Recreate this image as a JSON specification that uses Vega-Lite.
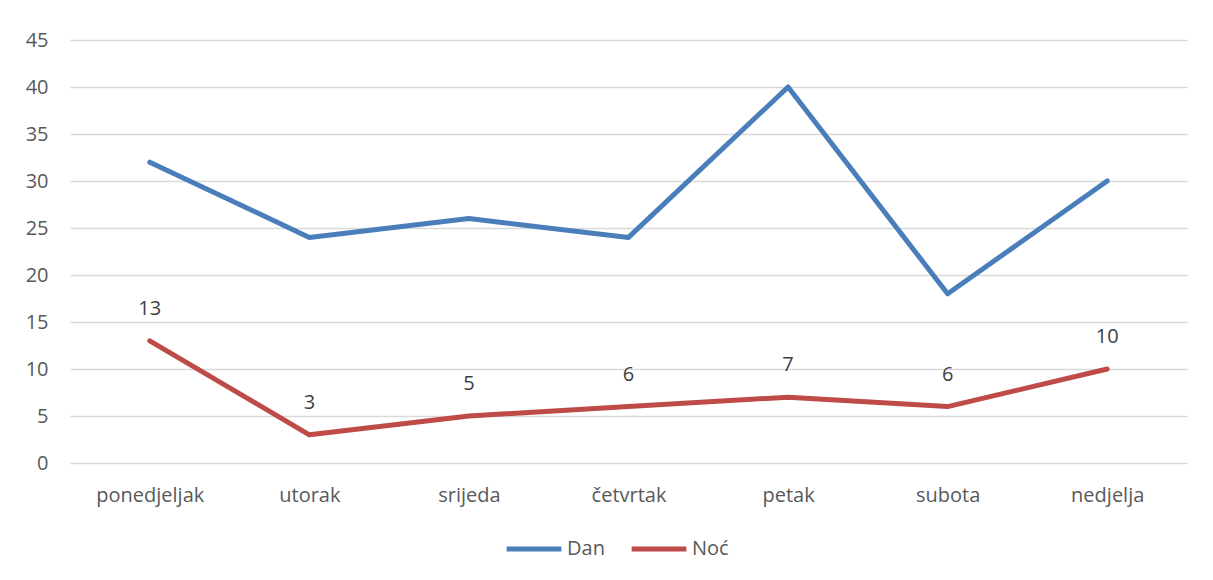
{
  "$schema": "https://vega.github.io/schema/vega-lite/v6.json",
  "width": 1117,
  "height": 423,
  "autosize": {"type": "none"},
  "padding": {"left": 70, "top": 40, "right": 26, "bottom": 117},
  "background": "white",
  "config": {
    "view": {"stroke": null},
    "font": "Open Sans",
    "axis": {"labelFont": "Open Sans", "labelColor": "#595959", "labelFontSize": 20}
  },
  "data": {
    "values": [
      {"day": "ponedjeljak", "series": "Dan", "value": 32},
      {"day": "utorak", "series": "Dan", "value": 24},
      {"day": "srijeda", "series": "Dan", "value": 26},
      {"day": "četvrtak", "series": "Dan", "value": 24},
      {"day": "petak", "series": "Dan", "value": 40},
      {"day": "subota", "series": "Dan", "value": 18},
      {"day": "nedjelja", "series": "Dan", "value": 30},
      {"day": "ponedjeljak", "series": "Noć", "value": 13},
      {"day": "utorak", "series": "Noć", "value": 3},
      {"day": "srijeda", "series": "Noć", "value": 5},
      {"day": "četvrtak", "series": "Noć", "value": 6},
      {"day": "petak", "series": "Noć", "value": 7},
      {"day": "subota", "series": "Noć", "value": 6},
      {"day": "nedjelja", "series": "Noć", "value": 10}
    ]
  },
  "layer": [
    {
      "mark": {"type": "line", "strokeWidth": 5, "strokeCap": "round", "strokeJoin": "round"},
      "encoding": {
        "x": {
          "field": "day", "type": "nominal", "sort": null,
          "scale": {"type": "point", "padding": 0.5},
          "axis": {"title": null, "ticks": false, "domain": false, "labelAngle": 0, "labelPadding": 22, "grid": false}
        },
        "y": {
          "field": "value", "type": "quantitative",
          "scale": {"domain": [0, 45]},
          "axis": {"title": null, "values": [0,5,10,15,20,25,30,35,40,45], "ticks": false, "domain": false, "labelPadding": 22, "grid": true, "gridColor": "#D9D9D9", "gridWidth": 1.5}
        },
        "color": {
          "field": "series", "type": "nominal",
          "scale": {"domain": ["Dan", "Noć"], "range": ["#4A7EBB", "#BE4B48"]},
          "legend": {
            "title": null, "orient": "none", "direction": "horizontal",
            "legendX": 434, "legendY": 479,
            "symbolType": "stroke", "symbolSize": 3000, "symbolStrokeWidth": 5,
            "labelFontSize": 20, "labelColor": "#595959", "labelFont": "Open Sans",
            "columnPadding": 16, "labelOffset": 3
          }
        }
      }
    },
    {
      "transform": [{"filter": "datum.series === 'Noć'"}],
      "mark": {"type": "text", "dy": -32, "fontSize": 20, "color": "#404040", "font": "Open Sans"},
      "encoding": {
        "x": {"field": "day", "type": "nominal", "sort": null},
        "y": {"field": "value", "type": "quantitative"},
        "text": {"field": "value", "type": "quantitative"}
      }
    }
  ]
}
